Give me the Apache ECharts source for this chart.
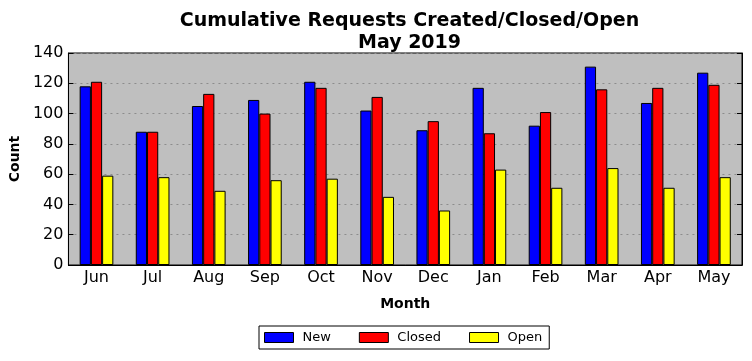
<!DOCTYPE html>
<html><head><meta charset="utf-8">
<script src="https://cdn.jsdelivr.net/npm/echarts@6/dist/echarts.min.js"></script>
<style>html,body{margin:0;padding:0;background:#fff}#c{width:752px;height:361px}</style>
</head><body><div id="c"></div>
<script>
const months = ['Jun','Jul','Aug','Sep','Oct','Nov','Dec','Jan','Feb','Mar','Apr','May'];
const newVals =    [118, 88, 105, 109, 121, 102, 89, 117, 92, 131, 107, 127];
const closedVals = [121, 88, 113, 100, 117, 111, 95, 87, 101, 116, 117, 119];
const openVals =   [59, 58, 49, 56, 57, 45, 36, 63, 51, 64, 51, 58];
const yTicks = [0, 20, 40, 60, 80, 100, 120, 140];

const font = 'DejaVu Sans';
const chart = echarts.init(document.getElementById('c'));
const barStyle = c => ({color: c, borderColor: '#000', borderWidth: 1});
chart.setOption({
  animation: false,
  title: {
    text: 'Cumulative Requests Created/Closed/Open\nMay 2019',
    left: 404.5, top: 5, textAlign: 'center',
    textStyle: {fontFamily: font, fontWeight: 'bold', fontSize: 19, lineHeight: 22, color: '#000'}
  },
  grid: {left: 67, right: 10, top: 53, bottom: 96, show: true, backgroundColor: '#bfbfbf', borderColor: '#000', borderWidth: 1},
  legend: {
    top: 326, left: 259,
    itemWidth: 29, itemHeight: 10, itemGap: 28,
    borderColor: '#000', borderWidth: 1, padding: [5, 7, 5, 5],
    icon: 'rect',
    itemStyle: {borderColor: '#000', borderWidth: 1},
    textStyle: {fontFamily: font, fontSize: 13, color: '#000', padding: [0, 0, 0, 4]},
    data: ['New', 'Closed', 'Open']
  },
  xAxis: [{
    type: 'category', data: months,
    name: 'Month', nameLocation: 'middle', nameGap: 32,
    nameTextStyle: {fontFamily: font, fontWeight: 'bold', fontSize: 14, color: '#000'},
    axisLine: {lineStyle: {color: '#000'}},
    axisTick: {inside: true, alignWithLabel: true, length: 5, lineStyle: {color: '#000'}},
    axisLabel: {fontFamily: font, fontSize: 16, color: '#000', margin: 5},
    splitLine: {show: false}
  }, {
    type: 'category', data: months, position: 'top',
    axisLine: {lineStyle: {color: '#000'}},
    axisTick: {inside: true, alignWithLabel: true, length: 5, lineStyle: {color: '#000'}},
    axisLabel: {show: false}
  }],
  yAxis: [{
    type: 'value', min: 0, max: 140, interval: 20,
    name: 'Count', nameLocation: 'middle', nameGap: 45,
    nameTextStyle: {fontFamily: font, fontWeight: 'bold', fontSize: 14, color: '#000'},
    axisLine: {show: true, lineStyle: {color: '#000'}},
    axisTick: {show: true, inside: true, length: 5, lineStyle: {color: '#000'}},
    axisLabel: {fontFamily: font, fontSize: 16, color: '#000', margin: 5,
      formatter: v => yTicks.includes(v) ? String(v) : ''},
    splitLine: {show: true, lineStyle: {color: '#8c8c8c', type: [2, 4], width: 1}}
  }, {
    type: 'value', min: 0, max: 140, interval: 20, position: 'right',
    axisLine: {show: true, lineStyle: {color: '#000'}},
    axisTick: {show: true, inside: true, length: 5, lineStyle: {color: '#000'}},
    axisLabel: {show: false}, splitLine: {show: false}
  }],
  series: [
    {name: 'New', type: 'bar', data: newVals, barWidth: '20%', barGap: '0%', itemStyle: barStyle('#0000ff')},
    {name: 'Closed', type: 'bar', data: closedVals, barWidth: '20%', barGap: '0%', itemStyle: barStyle('#ff0000')},
    {name: 'Open', type: 'bar', data: openVals, barWidth: '20%', barGap: '0%', itemStyle: barStyle('#ffff00')}
  ]
});
</script></body></html>
